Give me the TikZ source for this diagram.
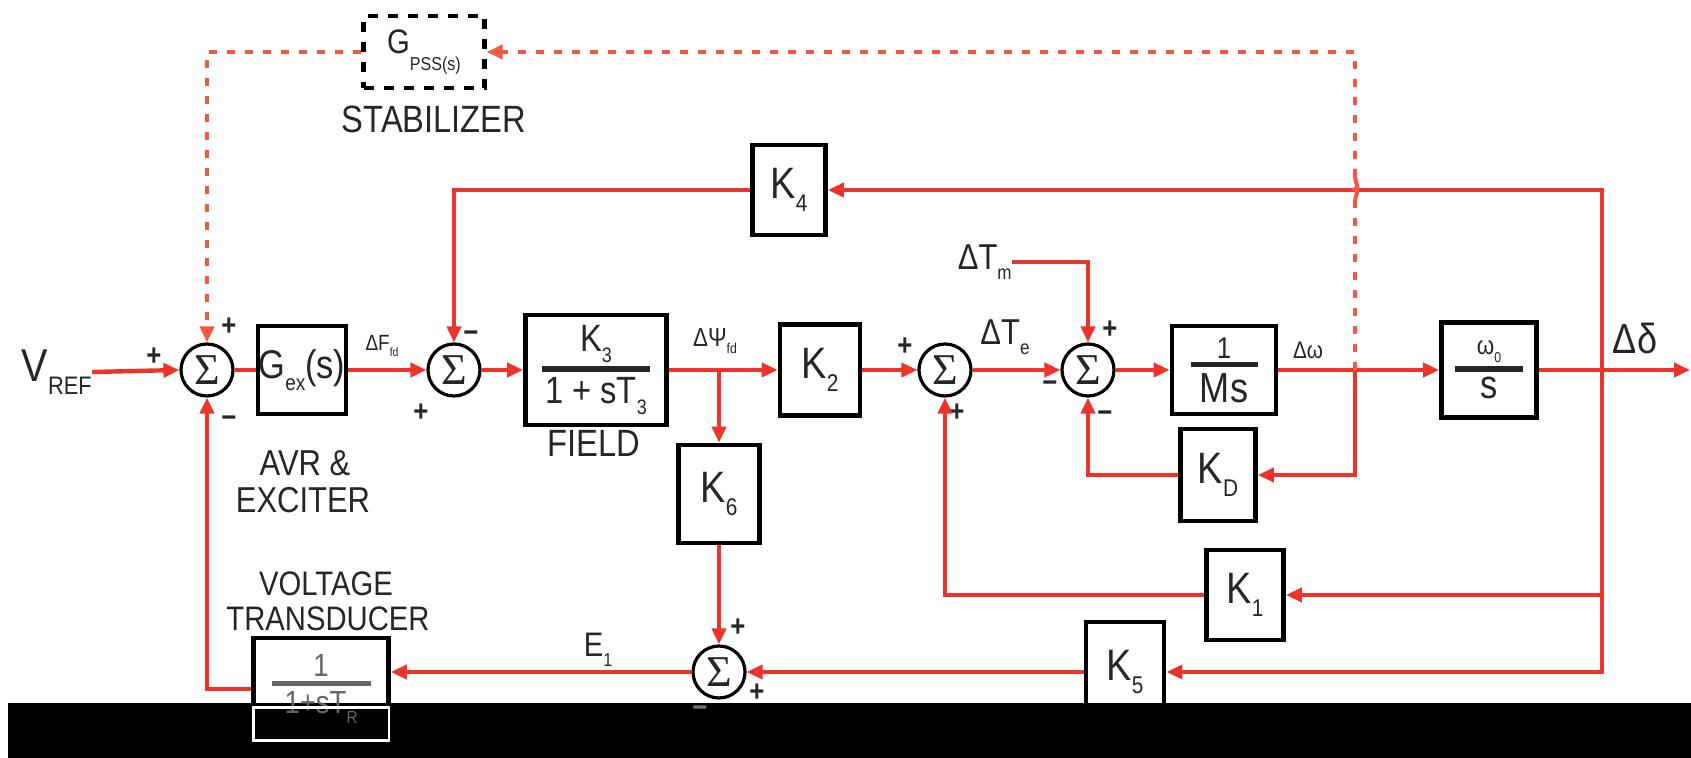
\documentclass[tikz,border=0pt]{standalone}
\usepackage{fontspec}
\setmainfont{Liberation Sans}[FakeStretch=0.86]
\newfontfamily\sgfont{Liberation Serif}
\usepackage{graphicx}
\usetikzlibrary{arrows.meta,calc}
\pgfdeclarelayer{front}
\pgfsetlayers{main,front}
\definecolor{redc}{RGB}{238,52,42}
\definecolor{dredc}{RGB}{242,88,66}
\newcommand\fsz[1]{\fontsize{#1}{#1}\selectfont}
\newcommand\sbs[1]{\raisebox{-0.55ex}{\scalebox{0.55}{#1}}}
\newcommand\frc[3]{\vbox{\offinterlineskip\halign{\hfil##\hfil\cr #1\cr\noalign{\kern2pt}\rule{#3}{2.6pt}\cr\noalign{\kern3pt}#2\cr}}}
\tikzset{
  blk/.style={draw=black, line width=2.4pt, fill=white, inner sep=0pt, text=black!85},
  sumj/.style={circle, draw=black, line width=1.6pt, fill=white, minimum size=26pt, inner sep=0pt, text=black!85},
  sig/.style={draw=redc, line width=2.2pt},
  arr/.style={sig, -{Triangle[length=8pt,width=7pt]}},
  dsh/.style={draw=dredc, line width=2pt, dash pattern=on 4pt off 5pt},
  darr/.style={dsh, -{Triangle[length=8pt,width=7pt,fill=redc]}},
  lbl/.style={text=black!85, inner sep=0pt},
  pm/.style={text=black!85, inner sep=0pt, font=\fsz{15}\bfseries},
}
\begin{document}
\begin{tikzpicture}[x=0.5pt,y=-0.5pt]
\useasboundingbox (0,0) rectangle (1691,758);

% ---------- blocks ----------
\node[sumj] (s1) at (207,370) {\sgfont\fsz{22}Σ};
\node[blk, minimum width=44pt, minimum height=44pt] (gex) at (302,370) {\fsz{20}G\sbs{ex}(s)};
\node[sumj] (s2) at (454,370) {\sgfont\fsz{22}Σ};
\node[blk, minimum width=70.5pt, minimum height=55pt] (field) at (596,370)
  {\frc{\fsz{19}K\sbs{3}}{\fsz{19}1 + sT\sbs{3}}{54pt}};
\node[blk, minimum width=40pt, minimum height=45.5pt] (k2) at (820,370) {\fsz{22}K\sbs{2}};
\node[sumj] (s3) at (945,370) {\sgfont\fsz{22}Σ};
\node[sumj] (s4) at (1088,370) {\sgfont\fsz{22}Σ};
\node[blk, minimum width=52pt, minimum height=44pt] (ms) at (1224,370)
  {\frc{\fsz{15}1}{\fsz{21}Ms}{33.5pt}};
\node[blk, minimum width=47.5pt, minimum height=47.5pt] (w0s) at (1489,370)
  {\frc{\fsz{13}ω\sbs{0}}{\fsz{20}s}{34pt}};
\node[blk, minimum width=36.5pt, minimum height=45pt] (k4) at (789,190) {\fsz{22}K\sbs{4}};
\node[blk, minimum width=40.5pt, minimum height=49pt] (k6) at (719,494) {\fsz{22}K\sbs{6}};
\node[sumj] (s5) at (719,672) {\sgfont\fsz{22}Σ};
\node[blk, minimum width=39pt, minimum height=50pt] (k5) at (1125,672) {\fsz{22}K\sbs{5}};
\node[blk, minimum width=38.5pt, minimum height=45pt] (k1) at (1245,595) {\fsz{22}K\sbs{1}};
\node[blk, minimum width=37.5pt, minimum height=46pt] (kd) at (1218,475) {\fsz{22}K\sbs{D}};
\node[draw=black, dash pattern=on 5pt off 5pt, line width=2.2pt, fill=white, inner sep=0pt,
      minimum width=60.5pt, minimum height=36pt, text=black!85] (pss) at (424,52)
  {\fsz{17}G\raisebox{-0.9ex}{\scalebox{0.55}{PSS(s)}}};
\begin{pgfonlayer}{front}
\node[blk, text=black!60, minimum width=67.5pt, minimum height=51pt,
      path picture={\fill[black] (path picture bounding box.south west) rectangle ($(path picture bounding box.south east)+(0,-37)$);}]
  (vt) at (321,689) {\frc{\fsz{16}1}{\fsz{16}1+sT\sbs{R}}{49.5pt}};
\draw[white, line width=1.4pt] ($(vt.south west)+(2,-2)$) rectangle ($(vt.south east)+(-2,-35)$);
\node[pm, text=black!55] at (700,712) {−};
\end{pgfonlayer}

% ---------- labels ----------
\node[lbl, anchor=east] (vref) at (92,372) {\fsz{23}V\sbs{REF}};
\node[lbl] (stab) at (434,119) {\fsz{19}STABILIZER};
\node[lbl] (avr) at (305,463) {\fsz{18}AVR \&};
\node[lbl] (exc) at (303,500) {\fsz{18}EXCITER};
\node[lbl] (fld) at (594,443) {\fsz{19}FIELD};
\node[lbl] (volt) at (326,584) {\fsz{17}VOLTAGE};
\node[lbl] (trans) at (328,619) {\fsz{17}TRANSDUCER};
\node[lbl] (dffd) at (382,346) {\fsz{11}ΔF\sbs{fd}};
\node[lbl] (dpsi) at (715,341) {\fsz{13}ΔΨ\sbs{fd}};
\node[lbl] (dte) at (1005,337) {\fsz{18}ΔT\sbs{e}};
\node[lbl, anchor=east] (dtm) at (1012,262) {\fsz{18}ΔT\sbs{m}};
\node[lbl] (dw) at (1308,350) {\fsz{12}Δω};
\node[lbl] (dd) at (1635,338) {\fsz{21}Δδ};
\node[lbl] (e1) at (598,650) {\fsz{17}E\sbs{1}};

% signs
\node[pm] at (154,357) {+};
\node[pm] at (229,327) {+};
\node[pm] at (229,422) {−};
\node[pm] at (471,337) {−};
\node[pm] at (421,413) {+};
\node[pm] at (905,347) {+};
\node[pm] at (957,413) {+};
\node[pm] at (1110,330) {+};
\node[pm] at (1050,387) {−};
\node[pm] at (1105,417) {−};
\node[pm] at (738,628) {+};
\node[pm] at (757,693) {+};

% ---------- connectors ----------
\coordinate (b1) at (719,370);
\coordinate (jd) at (1355,370);
\coordinate (jr) at (1602,370);
\coordinate (out) at (1690,370);

\draw[arr] (vref.east) -- (s1.west);
\draw[sig] (s1.east) -- (gex.west);
\draw[arr] (gex.east) -- (s2.west);
\draw[arr] (s2.east) -- (field.west);
\draw[arr] (field.east) -- (k2.west);
\draw[arr] (b1) -- (k6.north);
\draw[arr] (k2.east) -- (s3.west);
\draw[arr] (s3.east) -- (s4.west);
\draw[arr] (dtm.east) -| (s4.north);
\draw[arr] (s4.east) -- (ms.west);
\draw[arr] (ms.east) -- (w0s.west);
\draw[arr] (w0s.east) -- (out);

\draw[arr] (jr) |- (k4.east);
\draw[arr] (k4.west) -| (s2.north);
\draw[arr] (jr) |- (k1.east);
\draw[arr] (k1.west) -| (s3.south);
\draw[arr] (jr) |- (k5.east);
\draw[arr] (k5.west) -- (s5.east);
\draw[arr] (k6.south) -- (s5.north);
\draw[arr] (s5.west) -- (s5 -| vt.east);
\draw[arr] (vt.west) -| (s1.south);
\draw[arr] (jd) |- (kd.east);
\draw[arr] (kd.west) -| (s4.south);

% stabilizer loop (dashed, hopping over the K4 line)
\draw[dsh] (jd) -- ++(0,-168) coordinate (hopa);
\draw[draw=dredc, line width=2pt] (hopa) to[out=90,in=-90] ++(0,-1) to[out=90,in=0,looseness=1.2] ++(0,-12) coordinate (hopm)
  to[out=0,in=-90,looseness=1.2] ++(0,-12) coordinate (hopb);
\draw[darr] (hopb) |- (pss.east);
\draw[darr] (pss.west) -| (s1.north);

% black strip at the bottom
\fill[black] (8,703) rectangle (1691,758);
\end{tikzpicture}
\end{document}
